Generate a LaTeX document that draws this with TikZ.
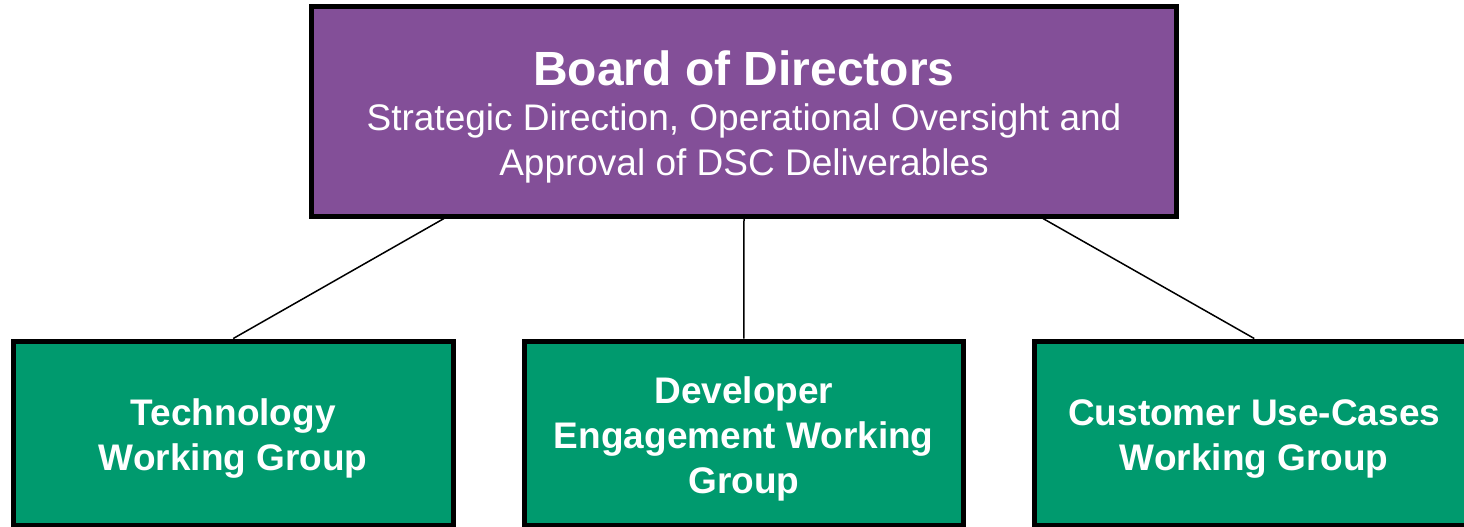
\documentclass[tikz,border=0pt]{standalone}
\usepackage{fontspec}
\setmainfont{Liberation Sans}
\usepackage{tikz}
\usetikzlibrary{positioning, calc}
\definecolor{BoardPurple}{HTML}{834F98}
\definecolor{GroupGreen}{HTML}{009A6E}
\newcommand{\toppad}[1]{\rule{0pt}{#1}}
\tikzset{
  boardbox/.style={rectangle, draw=black, line width=2.5pt, fill=BoardPurple, text=white, minimum width=432.25pt, minimum height=105pt, align=center, font=\fontsize{18.5}{22.5}\selectfont},
  groupbox/.style={rectangle, draw=black, line width=2.5pt, fill=GroupGreen, text=white, minimum width=219.75pt, minimum height=92pt, align=center, font=\fontsize{18.5}{22.5}\selectfont\bfseries},
  link/.style={draw=black, line width=0.75pt}
}
\begin{document}
\begin{tikzpicture}[x=0.5pt, y=-0.5pt]
  \useasboundingbox (0,0) rectangle (1464,526);
  \clip (0,0) rectangle (1464,526);

  \node[boardbox] (board) at (744,111) {\toppad{23pt}{\fontsize{24}{28}\selectfont\bfseries Board of Directors}\\Strategic Direction, Operational Oversight and\\Approval of DSC Deliverables};

  \node[groupbox] (tech) at (233.25,433) {\toppad{19pt}Technology\\Working Group};
  \node[groupbox] (devel) at (743.75,433) {\toppad{19pt}Developer\\Engagement Working\\Group};
  \node[groupbox] (cust) at (1254.25,433) {\toppad{19pt}Customer Use-Cases\\Working Group};

  \draw[link] ([xshift=-150pt]board.south) -- (tech.north);
  \draw[link] (board.south) -- (devel.north);
  \draw[link] ([xshift=149.5pt]board.south) -- (cust.north);
\end{tikzpicture}
\end{document}
